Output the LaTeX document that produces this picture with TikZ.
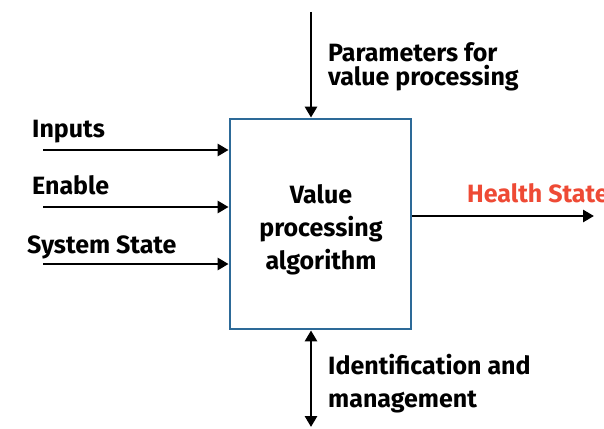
\documentclass[tikz,border=0pt]{standalone}
\usepackage{fontspec}
\setmainfont{Fira Sans}
\usetikzlibrary{arrows.meta}
\definecolor{boxblue}{HTML}{2D6A98}
\definecolor{hsred}{HTML}{EE4A35}
\tikzset{
  arr/.style={line width=2.8pt, -{Triangle[length=11pt,width=12pt]}},
  darr/.style={line width=2.8pt, {Triangle[length=11pt,width=12pt]}-{Triangle[length=11pt,width=12pt]}},
  lbl/.style={anchor=base west, inner sep=0pt, font=\fontsize{25}{33}\selectfont\bfseries},
  procbox/.style={draw=boxblue, line width=2.8pt, minimum width=181pt, minimum height=210pt, inner sep=0pt}
}
\begin{document}
\begin{tikzpicture}[x=1pt,y=-1pt]
\useasboundingbox (0,0) rectangle (604,428);
\node[procbox] (box) at (320.5,224) {};
\node[align=center, font=\fontsize{25}{33}\selectfont\bfseries, inner sep=0pt] (title) at (321,230) {Value\\processing\\algorithm};
% left inputs
\coordinate (in1) at (43,150);
\coordinate (in2) at (43,207);
\coordinate (in3) at (43,264);
\draw[arr] (in1) -- (in1 -| box.west);
\draw[arr] (in2) -- (in2 -| box.west);
\draw[arr] (in3) -- (in3 -| box.west);
\node[lbl] (l1) at (32,137) {Inputs};
\node[lbl] (l2) at (32,194) {Enable};
\node[lbl] (l3) at (27,253) {System State};
% top
\coordinate (ptop) at (311,12);
\draw[arr] (ptop) -- (ptop |- box.north);
\node[lbl] (lt1) at (328,62) {Parameters for};
\node[lbl] (lt2) at (328,85) {value processing};
% bottom
\coordinate (pbot) at (311,427);
\draw[darr] (pbot |- box.south) -- (pbot);
\node[lbl] (lb1) at (328,374) {Identification and};
\node[lbl] (lb2) at (328,407) {management};
% right
\coordinate (out) at (594,216);
\draw[arr] (out -| box.east) -- (out);
\node[lbl, text=hsred] (hs) at (467,202) {Health State};
\end{tikzpicture}
\end{document}
